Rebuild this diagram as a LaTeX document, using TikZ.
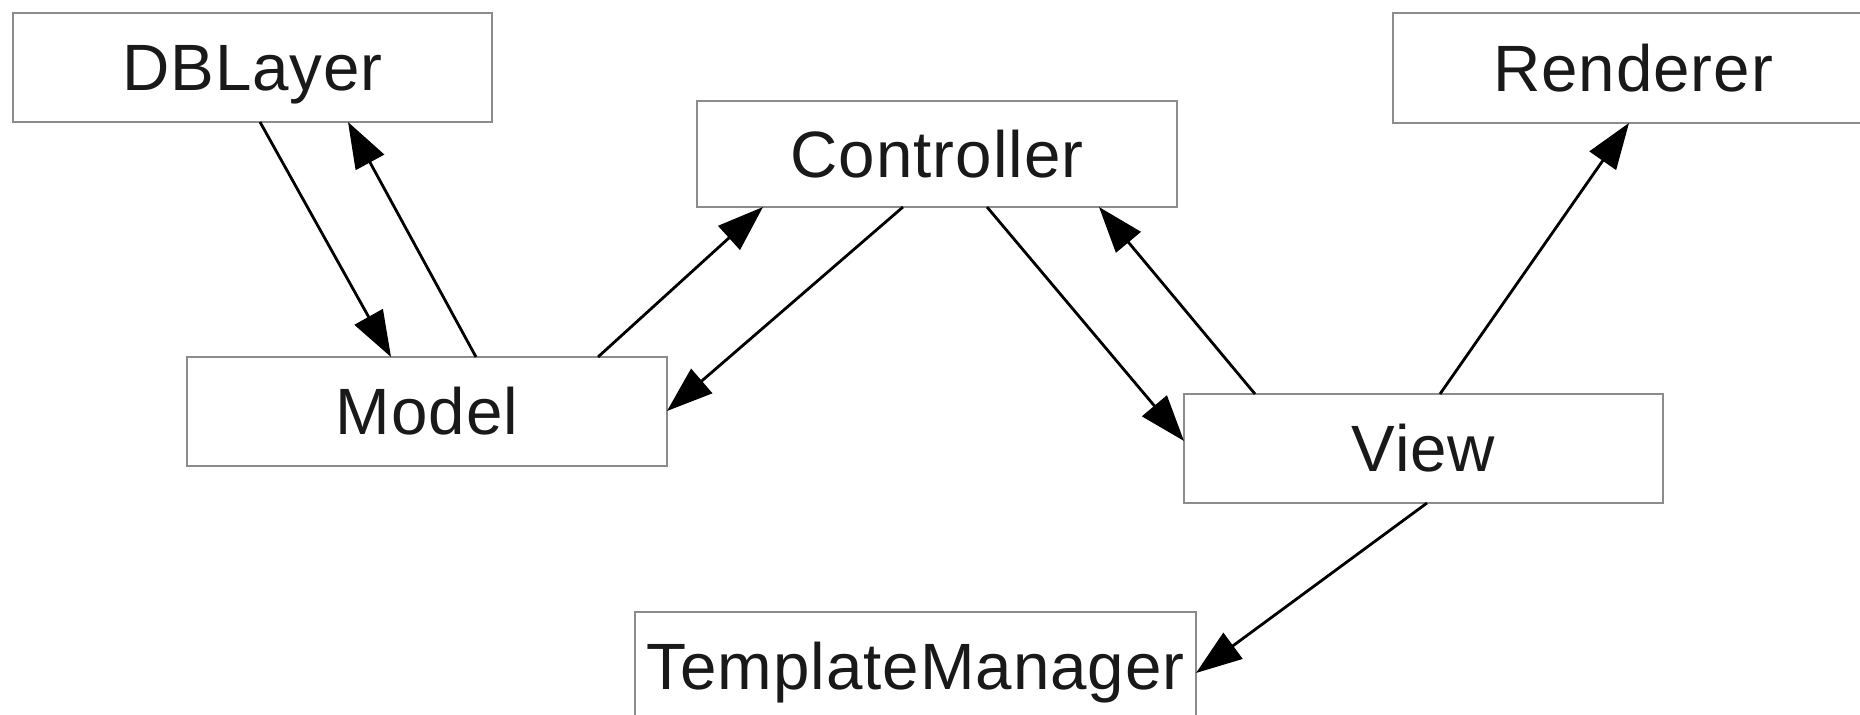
\documentclass[tikz,border=0pt]{standalone}
\usepackage{fontspec}
\setmainfont[LetterSpace=1.5]{Liberation Sans}
\usetikzlibrary{arrows.meta,calc}
\definecolor{boxgray}{RGB}{140,140,140}
\definecolor{txt}{RGB}{25,25,25}
\begin{document}
\begin{tikzpicture}[x=0.5pt,y=-0.5pt,
  box/.style={draw=boxgray,line width=1pt,fill=white,rectangle,inner sep=0pt,outer sep=0pt,
    minimum height=54.5pt,text height=23.5pt,text depth=0pt,text=txt,
    font=\fontsize{32.75pt}{39pt}\selectfont},
  link/.style={draw=black,line width=1.4pt,-{Triangle[length=23pt,width=16pt]}}]
\useasboundingbox (0,0) rectangle (1860,715);
\clip (0,0) rectangle (1860,715);
\fill[white] (0,0) rectangle (1860,715);
\node[box,minimum width=239.5pt] (dblayer) at (252.5,67.5) {DBLayer};
\node[box,minimum width=240pt,minimum height=53pt] (controller) at (937,154) {Controller};
\node[box,minimum width=240pt,minimum height=55pt] (renderer) at (1633,68) {Renderer};
\node[box,minimum width=240pt] (model) at (427,411.5) {Model};
\node[box,minimum width=239.5pt] (view) at (1423.5,448.5) {View};
\node[box,minimum width=280.5pt] (tm) at (915.5,666.5) {TemplateManager};
\draw[link] ($(dblayer.south west)+(247,0)$) -- ($(model.north west)+(204,0)$);
\draw[link] ($(model.north west)+(289,0)$) -- ($(dblayer.south west)+(335,0)$);
\draw[link] ($(model.north west)+(411,0)$) -- ($(controller.south west)+(66,0)$);
\draw[link] ($(controller.south west)+(206,0)$) -- ($(model.north east)+(0,54)$);
\draw[link] ($(controller.south west)+(290,0)$) -- ($(view.north west)+(0,47)$);
\draw[link] ($(view.north west)+(71,0)$) -- ($(controller.south west)+(402,0)$);
\draw[link] ($(view.north west)+(256,0)$) -- ($(renderer.south west)+(236,0)$);
\draw[link] ($(view.south west)+(243,0)$) -- ($(tm.north east)+(0,61)$);
\end{tikzpicture}
\end{document}
